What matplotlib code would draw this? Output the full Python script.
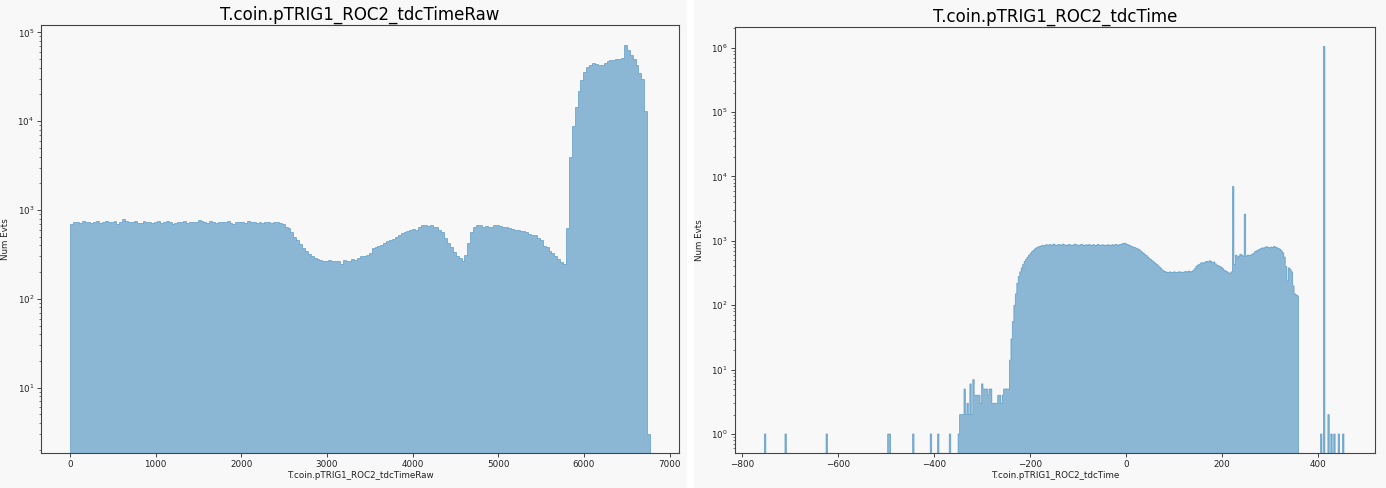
import numpy as np
import matplotlib
matplotlib.use("Agg")
import matplotlib.pyplot as plt
from matplotlib.patches import Rectangle

# ---------------- data ----------------
raw_title = "T.coin.pTRIG1_ROC2_tdcTimeRaw"
time_title = "T.coin.pTRIG1_ROC2_tdcTime"
ylabel = "Num Evts"

# left histogram: range and bin counts (200 bins)
raw_lo, raw_hi = 0.0, 6770.0
raw_flat = [700, 730, 740, 720, 750, 730, 740, 720, 735, 750,
            710, 730, 745, 725, 740, 755, 700, 730, 800, 750,
            730, 740, 755, 720, 710, 745, 730, 740, 720, 735,
            750, 710, 725, 750, 730, 690, 720, 740, 730, 750,
            710, 730, 740, 725, 770, 745, 730, 720, 750, 735,
            710, 740, 725, 730, 750, 720, 700, 740, 735, 725,
            710, 750, 740, 730, 720, 735, 710, 730, 740, 720,
            735, 725, 715]
raw_mid = [700, 650, 620, 560, 500, 455, 410, 375, 345, 320,
           300, 290, 280, 275, 265, 270, 275, 265, 270, 265,
           250, 275, 265, 270, 280, 275, 290, 300, 305, 310,
           330, 370, 385, 390, 400, 420, 445, 460, 470, 500,
           520, 545, 560, 580, 600, 610, 590, 650, 680, 670,
           660, 680, 650, 640, 600, 560, 480, 420, 380, 340,
           300, 285, 270, 310, 430, 560, 640, 680, 670, 650,
           660, 640, 650, 670, 680, 660, 640, 640, 620, 610,
           600, 600, 580, 580, 560, 540, 520, 530, 480, 460,
           390, 380, 350, 330, 300, 280, 260, 250]
raw_peak = [620, 4000, 8900, 14500, 22000, 29000, 35500, 40500, 43000, 45000,
            44000, 43000, 43000, 45000, 47000, 49000, 49000, 50000, 50000, 52000,
            72000, 63000, 56000, 50000, 43000, 35000, 30000, 13000, 3]
raw_counts = np.array(raw_flat + raw_mid + raw_peak, dtype=float)

# right histogram: 400 bins; segments anchored at their first-bin x value
time_lo, time_hi, time_nbins = -760.0, 464.0, 400
time_small = [2, 2, 2, 5, 2, 3, 2, 6, 2, 7, 4, 4, 4, 4, 3, 6, 5, 5, 5, 4,
              5, 5, 3, 3, 3, 3, 4, 4, 3, 4, 5, 5, 5, 5]
time_rise = [14, 30, 56, 100, 150, 220, 280, 330, 380, 430, 480, 520, 560,
             600, 640, 680, 710, 750, 780, 800, 820]
time_plateau = [830, 850, 840, 860, 870, 850, 880, 860, 870, 890,
                860, 850, 880, 870, 860, 890, 870, 850, 860, 880,
                870, 850, 860, 890, 870, 860, 850, 870, 880, 860,
                850, 870, 860, 880, 850, 860, 870, 850, 860, 880,
                860, 850, 870, 860, 850, 860, 870, 850, 860, 870,
                860, 880, 870, 860, 880, 890, 910, 920, 900]
time_decline = [880, 860, 840, 820, 800, 790, 770, 750, 730, 700,
                670, 640, 610, 590, 560, 530, 510, 490, 470, 450,
                430, 410, 390, 370, 350, 340, 330,
                325, 320, 330, 320, 325, 330, 320, 325, 330, 330,
                320, 325, 330, 335, 330, 340, 330, 335, 350,
                370, 400, 420, 430, 450, 460, 450, 470, 480, 470,
                490, 480, 460, 470, 440, 420, 410, 400, 390, 370,
                350, 340, 330, 320, 310, 330]
time_between = [430, 600, 560, 580, 620, 600, 580]
time_tail = [580, 600, 590, 600, 620, 640, 680, 700, 720, 740,
             760, 780, 770, 800, 810, 790, 780, 800, 790, 820,
             800, 780, 760, 740, 700, 650, 560, 400, 240, 380,
             360, 330, 200, 150, 145, 140]
time_segments = [(-345.0, time_small), (-241.0, time_rise), (-178.5, time_plateau),
                 (4.0, time_decline), (227.0, time_between), (252.0, time_tail)]
# isolated bins: position -> count
time_iso_x = [-753, -708, -624, -496, -492, -443, -408, -390, -367, -349,
              224, 248, 407, 413, 423, 429, 436, 444, 452]
time_iso_n = [1, 1, 1, 1, 1, 1, 1, 1, 1, 1,
              7000, 2600, 1, 1.05e6, 2, 1, 1, 1, 1]

# ---------------- build ----------------
raw_edges = np.linspace(raw_lo, raw_hi, len(raw_counts) + 1)
raw_centers = 0.5 * (raw_edges[:-1] + raw_edges[1:])

time_edges = np.linspace(time_lo, time_hi, time_nbins + 1)
time_centers = 0.5 * (time_edges[:-1] + time_edges[1:])
time_counts = np.zeros(time_nbins)
w = (time_hi - time_lo) / time_nbins
for x0, vals in time_segments:
    i0 = int((x0 - time_lo) // w)
    time_counts[i0:i0 + len(vals)] = vals
for x0, n in zip(time_iso_x, time_iso_n):
    time_counts[int((x0 - time_lo) // w)] = n

# ---------------- draw ----------------
W, H = 1386, 488
bg = "#f8f8f8"
fig = plt.figure(figsize=(W / 100, H / 100), dpi=100, facecolor=bg)
fig.patches.append(Rectangle((687 / W, 0), 7 / W, 1, transform=fig.transFigure,
                             facecolor="white", edgecolor="none", zorder=0))

def px_axes(x0, y0, x1, y1):
    return fig.add_axes([x0 / W, 1 - y1 / H, (x1 - x0) / W, (y1 - y0) / H])

ax1 = px_axes(41, 25, 679, 452.7)
ax2 = px_axes(734.6, 26.7, 1375, 452.7)

col = "#1f77b4"
for ax, c, e, cnt in [(ax1, raw_centers, raw_edges, raw_counts),
                      (ax2, time_centers, time_edges, time_counts)]:
    ax.hist(c, bins=e, weights=cnt, histtype="stepfilled", log=True,
            facecolor=col, edgecolor=col, linewidth=0.6, alpha=0.5)
    ax.set_facecolor(bg)
    for s in ax.spines.values():
        s.set_color("#444444")
        s.set_linewidth(0.8)
    ax.tick_params(axis="both", which="major", labelsize=6.3, length=3, pad=2,
                   color="#444444", labelcolor="#222222", width=0.7)
    ax.tick_params(axis="both", which="minor", length=1.8, color="#444444", width=0.5)
    ax.set_ylabel(ylabel, fontsize=6.3, labelpad=5, color="#222222")

ax1.set_xlim(-338.5, 7108.5)
ax1.set_ylim(1.855, 1.21e5)
ax1.set_xticks([0, 1000, 2000, 3000, 4000, 5000, 6000, 7000])
ax1.set_title(raw_title, fontsize=12, pad=3.5)
ax1.set_xlabel(raw_title, fontsize=6.3, labelpad=2, color="#222222")

ax2.set_xlim(-816, 519.5)
ax2.set_ylim(0.512, 2.12e6)
ax2.set_xticks([-800, -600, -400, -200, 0, 200, 400])
ax2.set_title(time_title, fontsize=12, pad=3.5)
ax2.set_xlabel(time_title, fontsize=6.3, labelpad=2, color="#222222")

fig.savefig("out.png", dpi=100, facecolor=bg)
